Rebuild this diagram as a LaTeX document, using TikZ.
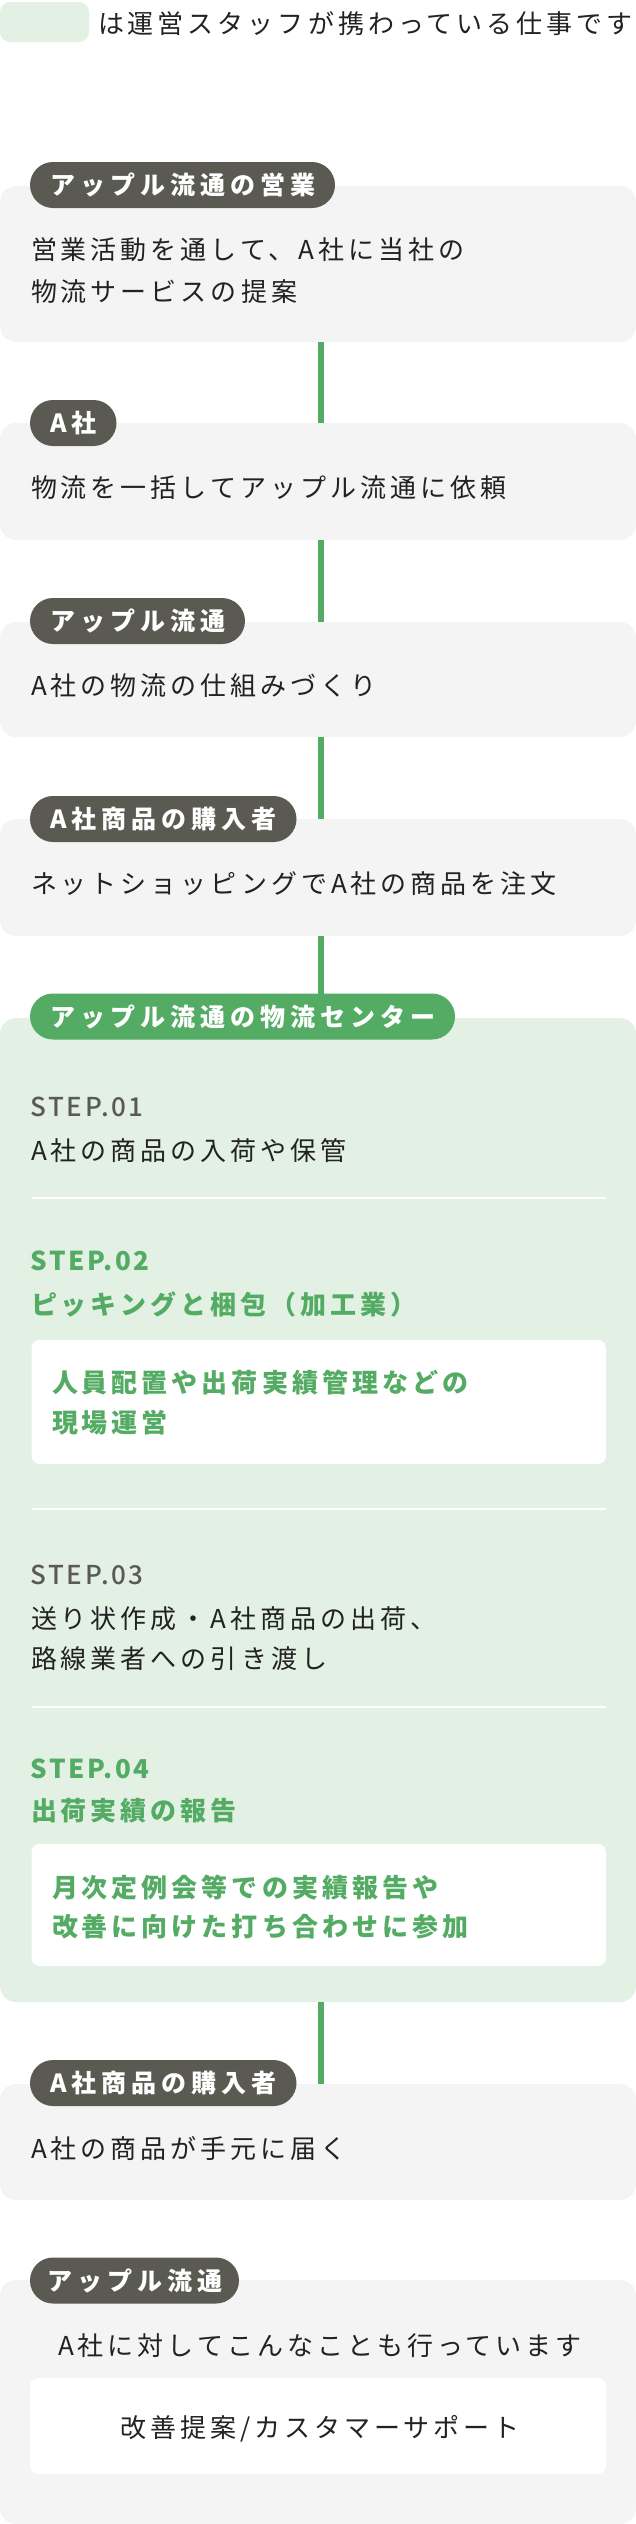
\documentclass[tikz,border=0pt]{standalone}
\usepackage{fontspec}
\newfontfamily\jpbody[LetterSpace=15.4]{Noto Sans CJK JP}
\newfontfamily\jppill[LetterSpace=20]{Noto Sans CJK JP}
\IfFontExistsTF{Noto Sans CJK JP Medium}{%
  \newfontfamily\jpstepm[LetterSpace=10]{Noto Sans CJK JP Medium}%
}{%
  \newfontfamily\jpstepm[LetterSpace=10]{Noto Sans CJK JP}%
}
\newfontfamily\jpstep[LetterSpace=10]{Noto Sans CJK JP}
\definecolor{cardgray}{HTML}{F4F4F4}
\definecolor{pilldark}{HTML}{5A5A52}
\definecolor{brandgreen}{HTML}{53AB64}
\definecolor{lightgreen}{HTML}{E2F1E4}
\definecolor{ink}{HTML}{222222}
\definecolor{stepgray}{HTML}{5A5A52}
\begin{document}
\begin{tikzpicture}[x=1pt,y=-1pt,
  card/.style={fill=cardgray, draw=none, rounded corners=16pt, minimum width=636pt, inner sep=0pt, outer sep=0pt, anchor=north west},
  pill/.style={fill=pilldark, text=white, rounded corners=23pt, minimum height=46pt, inner xsep=20pt, inner ysep=0pt, outer sep=0pt, anchor=west, font=\jppill\bfseries\fontsize{25pt}{25pt}\selectfont},
  body/.style={anchor=base west, inner sep=0pt, outer sep=0pt, text=ink, font=\jpbody\fontsize{26pt}{26pt}\selectfont},
  gbold/.style={anchor=base west, inner sep=0pt, outer sep=0pt, text=brandgreen, font=\jpbody\bfseries\fontsize{26pt}{26pt}\selectfont},
  steplbl/.style={anchor=base west, inner sep=0pt, outer sep=0pt, text=stepgray, font=\jpstepm\fontsize{26pt}{26pt}\selectfont},
  stepg/.style={anchor=base west, inner sep=0pt, outer sep=0pt, text=brandgreen, font=\jpstep\bfseries\fontsize{26pt}{26pt}\selectfont},
  wbox/.style={fill=white, draw=none, rounded corners=8pt, inner sep=0pt, outer sep=0pt, anchor=north west},
  conn/.style={draw=brandgreen, line width=6pt},
  sepline/.style={draw=white, line width=2pt}]
\useasboundingbox (0,0) rectangle (636,2524);

% legend
\node[fill=lightgreen, draw=none, rounded corners=10pt, minimum width=89pt, minimum height=40pt, inner sep=0pt, outer sep=0pt, anchor=north west] (leg) at (0,2) {};
\node[body] (legtxt) at (98,33) {は運営スタッフが携わっている仕事です};

% cards
\node[card, minimum height=156pt] (c1) at (0,186) {};
\node[card, minimum height=117pt] (c2) at (0,423) {};
\node[card, minimum height=115pt] (c3) at (0,622) {};
\node[card, minimum height=117pt] (c4) at (0,819) {};
\node[card, fill=lightgreen, minimum height=984pt] (g) at (0,1018) {};
\node[card, minimum height=116pt] (c6) at (0,2084) {};
\node[card, minimum height=244pt] (c7) at (0,2280) {};

% white boxes
\node[wbox, minimum width=574.4pt, minimum height=124pt] (w1) at (31.6,1340) {};
\node[wbox, minimum width=574.4pt, minimum height=122pt] (w2) at (31.6,1844) {};
\node[wbox, minimum width=576pt, minimum height=96pt] (w3) at (30,2378) {};

% connectors
\draw[conn] ([xshift=2.5pt]c1.south) -- ([xshift=2.5pt]c2.north);
\draw[conn] ([xshift=2.5pt]c2.south) -- ([xshift=2.5pt]c3.north);
\draw[conn] ([xshift=2.5pt]c3.south) -- ([xshift=2.5pt]c4.north);
\coordinate (gtop) at (320.5,994);
\draw[conn] ([xshift=2.5pt]c4.south) -- (gtop);
\draw[conn] ([xshift=2.5pt]g.south) -- ([xshift=2.5pt]c6.north);

% pills
\node[pill] (p1) at (30,185) {アップル流通の営業};
\node[pill] (p2) at (30,423) {A社};
\node[pill] (p3) at (30,621) {アップル流通};
\node[pill] (p4) at (30,819) {A社商品の購入者};
\node[pill, fill=brandgreen] (p5) at (30,1016.5) {アップル流通の物流センター};
\node[pill] (p6) at (30,2083) {A社商品の購入者};
\node[pill, inner xsep=17pt] (p7) at (30,2280.5) {アップル流通};

% card texts
\node[body] (t1a) at (31,259) {営業活動を通して、A社に当社の};
\node[body] (t1b) at (31,301) {物流サービスの提案};
\node[body] (t2) at (31,497) {物流を一括してアップル流通に依頼};
\node[body] (t3) at (31,695) {A社の物流の仕組みづくり};
\node[body] (t4) at (31,893) {ネットショッピングでA社の商品を注文};

% steps
\node[steplbl] (s1) at (30.5,1116) {STEP.01};
\node[body] (s1t) at (31,1160) {A社の商品の入荷や保管};
\draw[sepline] (31.6,1198) -- (606,1198);
\node[stepg] (s2) at (30.5,1270) {STEP.02};
\node[gbold] (s2t) at (31,1314) {ピッキングと梱包（加工業）};
\node[gbold] (w1a) at (52,1392) {人員配置や出荷実績管理などの};
\node[gbold] (w1b) at (52,1432) {現場運営};
\draw[sepline] (31.6,1509) -- (606,1509);
\node[steplbl] (s3) at (30.5,1584) {STEP.03};
\node[body] (s3a) at (31,1628) {送り状作成・A社商品の出荷、};
\node[body] (s3b) at (31,1668) {路線業者への引き渡し};
\draw[sepline] (31.6,1707) -- (606,1707);
\node[stepg] (s4) at (30.5,1778) {STEP.04};
\node[gbold] (s4t) at (31,1820) {出荷実績の報告};
\node[gbold] (w2a) at (52,1897) {月次定例会等での実績報告や};
\node[gbold] (w2b) at (52,1936) {改善に向けた打ち合わせに参加};

% last cards
\node[body] (t6) at (31,2158) {A社の商品が手元に届く};
\node[body, anchor=base] (t7) at (320,2355) {A社に対してこんなことも行っています};
\node[body, anchor=base] (t7b) at (320,2437) {改善提案/カスタマーサポート};
\end{tikzpicture}
\end{document}
